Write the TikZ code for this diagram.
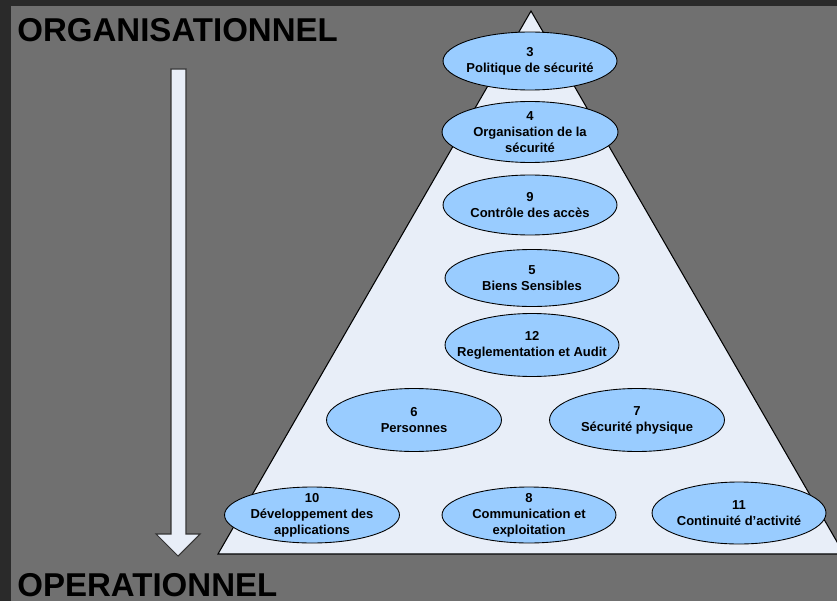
\documentclass[tikz,border=0pt]{standalone}
\usepackage{fontspec}
\setmainfont{Liberation Sans}
\usetikzlibrary{shapes.geometric}

\definecolor{fondgris}{HTML}{707070}
\definecolor{bordsombre}{HTML}{2A2A2A}
\definecolor{pyramide}{HTML}{E8EEF8}
\definecolor{bulle}{HTML}{99CCFF}

\tikzset{
  theme/.style={ellipse, draw=black, fill=bulle, line width=0.5pt,
    minimum width=3.48cm, minimum height=1.2cm, inner xsep=-20pt, inner ysep=-6pt,
    align=center, font=\fontsize{7.4}{9.1}\selectfont\bfseries},
  titre/.style={anchor=base west, inner sep=0pt, font=\fontsize{18.8}{22}\selectfont\bfseries}
}

\begin{document}
\begin{tikzpicture}[x=0.02cm, y=-0.02cm]
        \useasboundingbox (0,0) rectangle (837,601);
        \fill[bordsombre] (0,0) rectangle (837,601);
        \fill[fondgris] (11,6) rectangle (837,601);
        \begin{scope}
            \clip (0,0) rectangle (837,601);
            \draw[fill=pyramide, line width=0.6pt] (531,11) -- (218,554) -- (844,554) -- cycle;
        \end{scope}
        % fleche
        \draw[fill=pyramide, draw=black!80, line width=0.6pt] (171,69) -- (186,69) -- (186,534) -- (200,534) -- (178,556) -- (156,534) -- (171,534) -- cycle;
        \node[titre] (orga) at (17,42) {ORGANISATIONNEL};
        \node[titre] (oper) at (17,596) {OPERATIONNEL};
        % ellipses
        \node[theme, minimum height=1.16cm] (politique) at (530,61) {3\\Politique de sécurité};
        \node[theme, minimum width=3.52cm, minimum height=1.22cm] (organisation) at (530,132) {4\\Organisation de la\\sécurité};
        \node[theme] (acces) at (530,205) {9\\Contrôle des accès};
        \node[theme, minimum height=1.14cm] (biens) at (532,278) {5\\Biens Sensibles};
        \node[theme, minimum height=1.26cm] (audit) at (532,345) {12\\Reglementation et Audit};
        \node[theme, minimum width=3.5cm, minimum height=1.26cm] (personnes) at (414,420) {6\\Personnes};
        \node[theme, minimum width=3.5cm, minimum height=1.26cm] (physique) at (637,420) {7\\Sécurité physique};
        \node[theme, minimum width=3.5cm, minimum height=1.12cm] (developpement) at (312,515) {10\\Développement des\\applications};
        \node[theme, minimum height=1.12cm] (communication) at (529,515) {8\\Communication et\\exploitation};
        \node[theme, minimum height=1.24cm] (continuite) at (739,513) {11\\Continuité d’activité};
\end{tikzpicture}
\end{document}
